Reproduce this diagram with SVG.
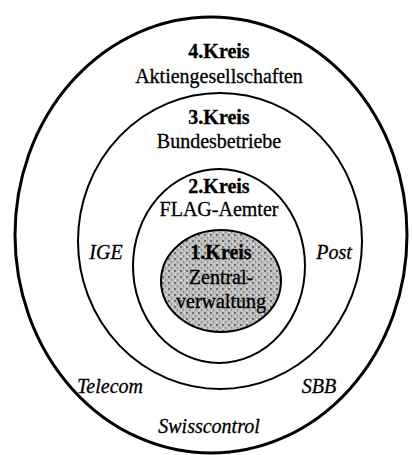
<svg xmlns="http://www.w3.org/2000/svg" width="412" height="455" viewBox="0 0 412 455">
<defs>
<pattern id="stip" width="6" height="6" patternUnits="userSpaceOnUse">
<rect width="6" height="6" fill="#bdbdbd"/>
<rect x="0" y="0" width="2" height="2" fill="#6e6e6e"/>
<rect x="3" y="3" width="1" height="2" fill="#8a8a8a"/>
<rect x="4" y="1" width="1" height="1" fill="#f0f0f0"/>
<rect x="1" y="4" width="1" height="1" fill="#eeeeee"/>
</pattern>
</defs>
<style>
.ring{fill:none;stroke:#000}
.t{font-family:"Liberation Serif","Times New Roman",serif;font-size:20px;fill:#000;stroke:#000;stroke-width:0.3;text-anchor:middle}
.b{font-weight:bold}
.i{font-style:italic}
</style>
<rect width="412" height="455" fill="#fff"/>
<g id="kreis4">
<ellipse class="ring" cx="211" cy="235" rx="196" ry="218" stroke-width="3"/>
<text class="t b" x="219" y="58">4.Kreis</text>
<text class="t" x="219" y="83">Aktiengesellschaften</text>
<text class="t i" x="110" y="393">Telecom</text>
<text class="t i" x="319" y="393">SBB</text>
<text class="t i" x="209" y="433">Swisscontrol</text>
</g>
<g id="kreis3">
<ellipse class="ring" cx="220" cy="241" rx="142" ry="148" stroke-width="2"/>
<text class="t b" x="219" y="124">3.Kreis</text>
<text class="t" x="219" y="148">Bundesbetriebe</text>
<text class="t i" x="106" y="259">IGE</text>
<text class="t i" x="334" y="259">Post</text>
</g>
<g id="kreis2">
<ellipse class="ring" cx="219" cy="266" rx="86" ry="97" stroke-width="2"/>
<text class="t b" x="219" y="193">2.Kreis</text>
<text class="t" x="219" y="216">FLAG-Aemter</text>
</g>
<g id="kreis1">
<ellipse cx="221" cy="281" rx="60" ry="51" fill="url(#stip)" stroke="#000" stroke-width="2"/>
<text class="t b" x="221" y="259">1.Kreis</text>
<text class="t" x="221" y="284">Zentral-</text>
<text class="t" x="221" y="308">verwaltung</text>
</g>
</svg>
